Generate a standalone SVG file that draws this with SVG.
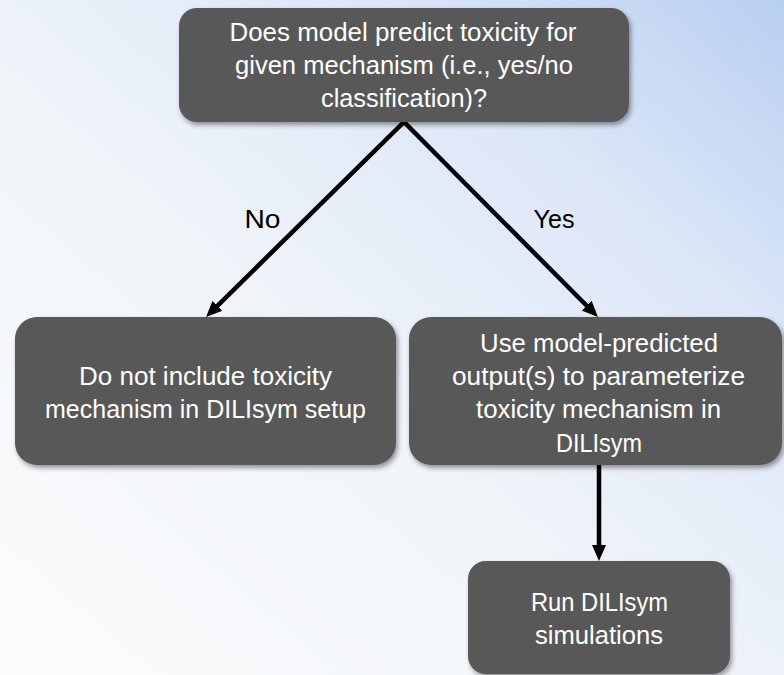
<svg xmlns="http://www.w3.org/2000/svg" width="784" height="675" viewBox="0 0 784 675">
<defs>
<linearGradient id="bg" x1="0" y1="1" x2="1" y2="0">
<stop offset="0" stop-color="#fbfcfd"/>
<stop offset="0.45" stop-color="#f0f4f9"/>
<stop offset="0.75" stop-color="#dbe6f7"/>
<stop offset="1" stop-color="#b9cff1"/>
</linearGradient>
<filter id="sh" x="-10%" y="-10%" width="120%" height="130%">
<feDropShadow dx="2" dy="3" stdDeviation="2.5" flood-color="#000" flood-opacity="0.4"/>
</filter>
<marker id="ah" markerUnits="userSpaceOnUse" markerWidth="18" markerHeight="16" refX="4" refY="8" orient="auto-start-reverse">
<path d="M0,1 L16,8 L0,15 z" fill="#000"/>
</marker>
</defs>
<style>
.box{fill:#595959;filter:url(#sh);}
.t{font-family:"Liberation Sans",Arial,sans-serif;font-size:25px;fill:#ffffff;text-anchor:middle;}
.lbl{font-family:"Liberation Sans",Arial,sans-serif;font-size:25px;fill:#000;text-anchor:middle;}
.c{stroke:#000;stroke-width:4.5;fill:none;stroke-linejoin:miter;}
</style>
<rect width="784" height="675" fill="url(#bg)"/>
<g id="connectors">
<path class="c" d="M214.6,308.6 L404,122 L589.5,308.5" marker-start="url(#ah)" marker-end="url(#ah)"/>
<line class="c" x1="599" y1="465" x2="599" y2="549" marker-end="url(#ah)"/>
<text class="lbl" x="262.5" y="228" textLength="36" lengthAdjust="spacingAndGlyphs">No</text>
<text class="lbl" x="554" y="228" textLength="41" lengthAdjust="spacingAndGlyphs">Yes</text>
</g>
<g id="q">
<rect class="box" x="179" y="8" width="450" height="114" rx="18"/>
<text class="t" x="403" y="41" textLength="347" lengthAdjust="spacingAndGlyphs">Does model predict toxicity for</text>
<text class="t" x="404" y="74" textLength="338" lengthAdjust="spacingAndGlyphs">given mechanism (i.e., yes/no</text>
<text class="t" x="404" y="107" textLength="166" lengthAdjust="spacingAndGlyphs">classification)?</text>
</g>
<g id="no">
<rect class="box" x="15" y="317" width="381" height="148" rx="22"/>
<text class="t" x="205.5" y="385" textLength="253" lengthAdjust="spacingAndGlyphs">Do not include toxicity</text>
<text class="t" x="205.5" y="418" textLength="321" lengthAdjust="spacingAndGlyphs">mechanism in DILIsym setup</text>
</g>
<g id="yes">
<rect class="box" x="409" y="317" width="373" height="148" rx="22"/>
<text class="t" x="599" y="352" textLength="238" lengthAdjust="spacingAndGlyphs">Use model-predicted</text>
<text class="t" x="598.5" y="385" textLength="293" lengthAdjust="spacingAndGlyphs">output(s) to parameterize</text>
<text class="t" x="598.5" y="418" textLength="245" lengthAdjust="spacingAndGlyphs">toxicity mechanism in</text>
<text class="t" x="599" y="452" textLength="86" lengthAdjust="spacingAndGlyphs">DILIsym</text>
</g>
<g id="run">
<rect class="box" x="468" y="561" width="262" height="113" rx="18"/>
<text class="t" x="599.5" y="611" textLength="137" lengthAdjust="spacingAndGlyphs">Run DILIsym</text>
<text class="t" x="599" y="644" textLength="128" lengthAdjust="spacingAndGlyphs">simulations</text>
</g>
</svg>
